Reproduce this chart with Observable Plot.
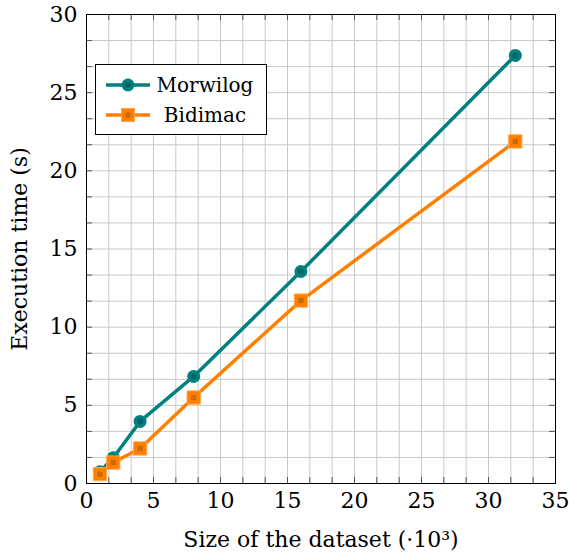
<!DOCTYPE html>
<html><head><meta charset="utf-8">
<script src="https://cdn.jsdelivr.net/npm/d3@7"></script>
<script src="https://cdn.jsdelivr.net/npm/@observablehq/plot@0.6"></script>
<style>
body{margin:0;background:#fff}
#wrap{position:relative;width:569px;height:558px}
#legend{position:absolute;left:95px;top:64px}
svg text{font-family:"DejaVu Serif", serif}
</style></head><body><div id="wrap"></div>
<script>
const sizes = [1, 2, 4, 8, 16, 32];
const morwilog = [0.75, 1.65, 3.97, 6.85, 13.56, 27.38];
const bidimac = [0.6, 1.34, 2.24, 5.5, 11.7, 21.88];
const seriesNames = ["Morwilog", "Bidimac"];
const seriesColors = ["#008080", "#ff8000"];
const seriesDark = ["#006666", "#cc6a00"];
const xTicks = [0, 5, 10, 15, 20, 25, 30, 35];
const yTicks = [0, 5, 10, 15, 20, 25, 30];
const xLabel = "Size of the dataset (·10³)";
const yLabel = "Execution time (s)";

const W = 569, H = 558, mL = 86, mR = 14, mT = 14, mB = 75;
const innerH = H - mT - mB, innerW = W - mL - mR;
const xMinor = d3.range(0, 35 + 1e-9, 5 / 3);
const yMinor = d3.range(0, 30 + 1e-9, 5 / 3);
const mData = sizes.map((s, i) => ({x: s, y: morwilog[i]}));
const bData = sizes.map((s, i) => ({x: s, y: bidimac[i]}));
const FF = "'DejaVu Serif', serif";

const chart = Plot.plot({
  width: W, height: H,
  marginLeft: mL, marginRight: mR, marginTop: mT, marginBottom: mB,
  style: {fontFamily: "DejaVu Serif", background: "#fff"},
  x: {domain: [0, 35]},
  y: {domain: [0, 30]},
  marks: [
    Plot.gridX(xMinor, {stroke: "#c8c8c8", strokeOpacity: 1, strokeWidth: 1}),
    Plot.gridY(yMinor, {stroke: "#c8c8c8", strokeOpacity: 1, strokeWidth: 1}),
    Plot.tickX(xMinor, {x: d => d, stroke: "#555", insetTop: innerH - 6}),
    Plot.tickX(xMinor, {x: d => d, stroke: "#555", insetBottom: innerH - 6}),
    Plot.tickY(yMinor, {y: d => d, stroke: "#555", insetRight: innerW - 6}),
    Plot.tickY(yMinor, {y: d => d, stroke: "#555", insetLeft: innerW - 6}),
    Plot.axisX({ticks: xTicks, tickSize: 0, tickPadding: 9, fontSize: 22, tickFormat: d => String(d),
      label: xLabel, labelAnchor: "center", labelArrow: "none", labelOffset: 63}),
    Plot.axisY({ticks: yTicks, tickSize: 0, tickPadding: 9, fontSize: 22, tickFormat: d => String(d),
      label: yLabel, labelAnchor: "center", labelArrow: "none", labelOffset: 75}),
    Plot.line(mData, {x: "x", y: "y", stroke: seriesColors[0], strokeWidth: 3.5}),
    Plot.dot(mData, {x: "x", y: "y", r: 6.5, fill: seriesColors[0], stroke: null}),
    Plot.dot(mData, {x: "x", y: "y", r: 3, fill: seriesDark[0], stroke: null}),
    Plot.line(bData, {x: "x", y: "y", stroke: seriesColors[1], strokeWidth: 3.5}),
    Plot.dot(bData, {x: "x", y: "y", r: 7.5, symbol: "square", fill: seriesColors[1], stroke: "#ffa850", strokeWidth: 1}),
    Plot.dot(bData, {x: "x", y: "y", r: 3, symbol: "square", fill: seriesDark[1], stroke: null}),
    Plot.frame({stroke: "#000", strokeWidth: 1})
  ]
});
chart.querySelectorAll("text").forEach(t => {
  t.setAttribute("font-size", 22);
  t.style.fontSize = "22px";
  t.style.fontFamily = FF;
});
const wrap = document.getElementById("wrap");
wrap.appendChild(chart);

// Legend
const lg = d3.select(wrap).append("svg").attr("id", "legend").attr("width", 173).attr("height", 72);
lg.append("rect").attr("x", 0.5).attr("y", 0.5).attr("width", 171).attr("height", 70).attr("fill", "#fff").attr("stroke", "#000");
seriesNames.forEach((name, i) => {
  const cy = 21 + i * 30;
  const g = lg.append("g");
  g.append("line").attr("x1", 11).attr("x2", 55).attr("y1", cy).attr("y2", cy).attr("stroke", seriesColors[i]).attr("stroke-width", 3.5);
  if (i === 0) {
    g.append("circle").attr("cx", 33).attr("cy", cy).attr("r", 6.5).attr("fill", seriesColors[0]);
    g.append("circle").attr("cx", 33).attr("cy", cy).attr("r", 3).attr("fill", seriesDark[0]);
  } else {
    g.append("rect").attr("x", 26.5).attr("y", cy - 6.5).attr("width", 13).attr("height", 13).attr("fill", seriesColors[1]).attr("stroke", "#ffa850");
    g.append("rect").attr("x", 30.5).attr("y", cy - 2.5).attr("width", 5).attr("height", 5).attr("fill", seriesDark[1]);
  }
  g.append("text").attr("x", 110).attr("y", cy).attr("dy", "0.35em").attr("text-anchor", "middle")
    .style("font-family", FF).style("font-size", "20px").text(name);
});
</script></body></html>
